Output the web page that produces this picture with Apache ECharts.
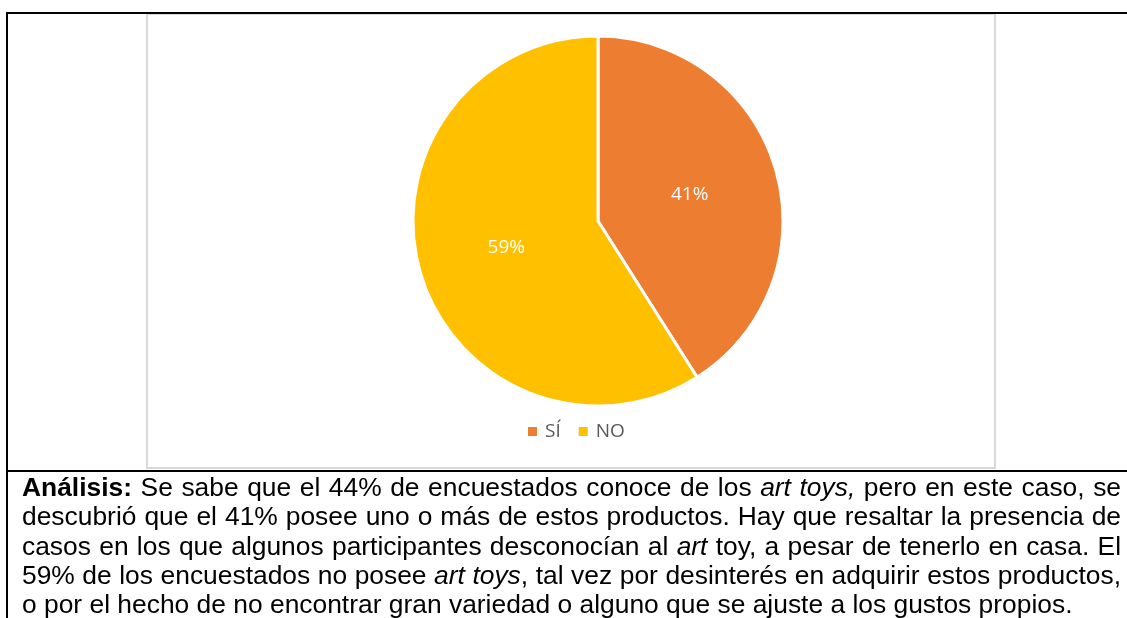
<!DOCTYPE html>
<html>
<head>
<meta charset="utf-8">
<script src="https://cdn.jsdelivr.net/npm/echarts@6/dist/echarts.min.js"></script>
<style>
html,body{margin:0;padding:0;background:#fff;width:1127px;height:618px;overflow:hidden;}
#chart{position:absolute;left:0;top:0;width:1127px;height:618px;}
#txt{position:absolute;left:22px;top:473px;width:1099px;font-family:"Liberation Sans",Arial,sans-serif;font-size:26.4px;line-height:29.3px;color:#000;}
#txt .ln{white-space:nowrap;display:block;}
#txt .ln span.in{display:inline-block;}
</style>
</head>
<body>
<div id="chart"></div>
<div id="txt">
<div class="ln j"><span class="in"><b>Análisis:</b> Se sabe que el 44% de encuestados conoce de los <i>art toys,</i> pero en este caso, se</span></div>
<div class="ln j"><span class="in">descubrió que el 41% posee uno o más de estos productos. Hay que resaltar la presencia de</span></div>
<div class="ln j"><span class="in">casos en los que algunos participantes desconocían al <i>art</i> toy, a pesar de tenerlo en casa. El</span></div>
<div class="ln j"><span class="in">59% de los encuestados no posee <i>art toys</i>, tal vez por desinterés en adquirir estos productos,</span></div>
<div class="ln"><span class="in">o por el hecho de no encontrar gran variedad o alguno que se ajuste a los gustos propios.</span></div>
</div>
<script>
// justify each line to full width (expand or compress word spacing)
document.querySelectorAll('#txt .ln.j').forEach(function (ln) {
  const sp = ln.querySelector('span.in');
  const natural = sp.getBoundingClientRect().width;
  const spaces = (sp.textContent.trim().match(/ /g) || []).length;
  if (spaces > 0) sp.style.wordSpacing = ((1099 - natural) / spaces) + 'px';
});

const categories = ["SÍ", "NO"];
const values = [41, 59];
const colors = ["#ED7D31", "#FFC000"];

const chart = echarts.init(document.getElementById('chart'), null, {renderer: 'canvas'});
chart.setOption({
  animation: false,
  color: colors,
  graphic: [
    {type: 'rect', shape: {x: 147, y: 14, width: 848, height: 454}, style: {fill: 'none', stroke: '#d9d9d9', lineWidth: 2}, z: 1},
    {type: 'line', shape: {x1: 6, y1: 13, x2: 1127, y2: 13}, style: {stroke: '#000', lineWidth: 2}, z: 2},
    {type: 'line', shape: {x1: 7, y1: 12, x2: 7, y2: 618}, style: {stroke: '#000', lineWidth: 2}, z: 2},
    {type: 'line', shape: {x1: 6, y1: 471, x2: 1127, y2: 471}, style: {stroke: '#000', lineWidth: 2}, z: 2}
  ],
  legend: {
    data: categories,
    top: 417,
    left: 523,
    itemWidth: 9,
    itemHeight: 9,
    itemGap: 18,
    icon: 'rect',
    itemStyle: {borderWidth: 0},
    textStyle: {fontFamily: '"Open Sans", sans-serif', fontSize: 19, color: '#595959', padding: [0, 0, 0, 3]}
  },
  series: [{
    type: 'pie',
    center: [598, 221],
    radius: [0, 185],
    startAngle: 90,
    clockwise: true,
    itemStyle: {borderColor: '#fff', borderWidth: 3},
    label: {
      show: true,
      position: 'inside',
      formatter: '{d}%',
      color: '#fff',
      fontFamily: '"Open Sans", sans-serif',
      fontSize: 19
    },
    labelLine: {show: false},
    emphasis: {disabled: true},
    data: categories.map((c, i) => ({name: c, value: values[i]}))
  }]
});
</script>
</body>
</html>
